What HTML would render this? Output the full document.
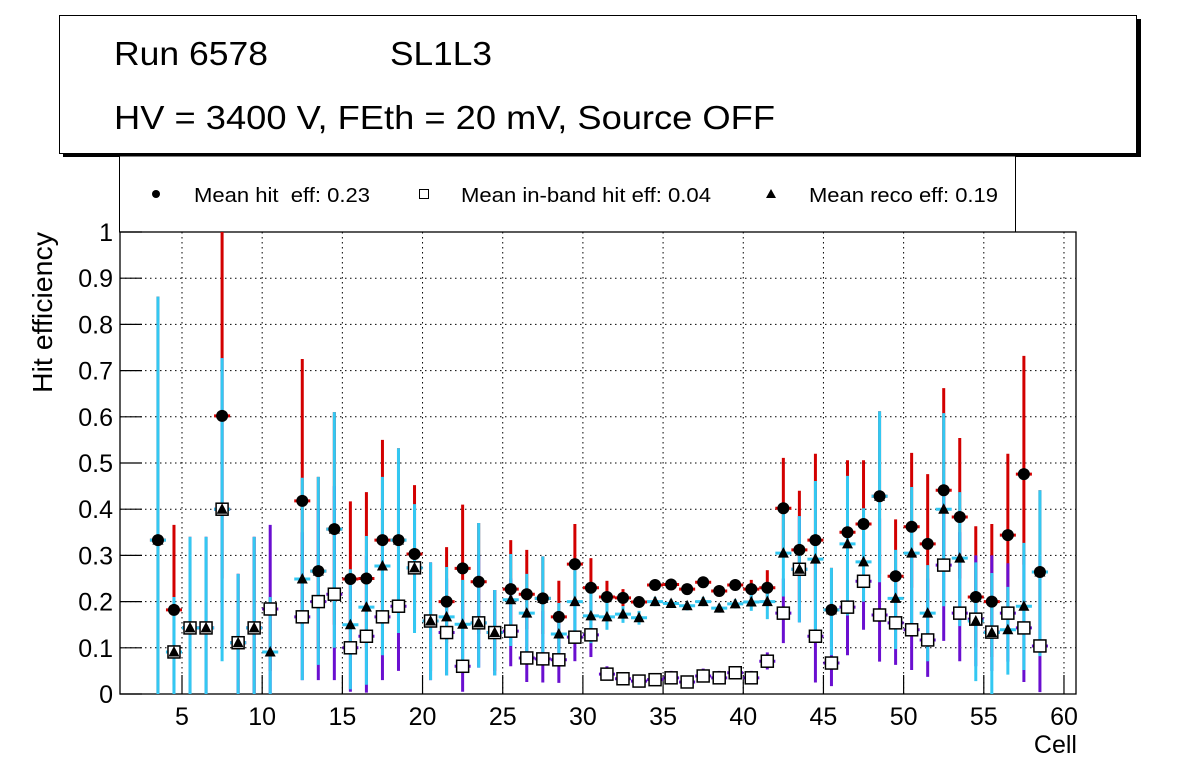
<!DOCTYPE html>
<html><head><meta charset="utf-8"><style>
html,body{margin:0;padding:0;background:#fff;}
svg{display:block;font-family:"Liberation Sans",Arial,sans-serif;}
</style></head><body>
<svg id="c" width="1196" height="772" viewBox="0 0 1196 772" xmlns="http://www.w3.org/2000/svg">
<rect x="63" y="19" width="1078" height="138" fill="#000"/>
<rect x="59.5" y="15.5" width="1077" height="138" fill="#fff" stroke="#000" stroke-width="1"/>
<text x="114" y="65" font-size="33" textLength="154" lengthAdjust="spacingAndGlyphs">Run 6578</text>
<text x="390" y="65" font-size="33" textLength="102" lengthAdjust="spacingAndGlyphs">SL1L3</text>
<text x="114" y="129" font-size="33" textLength="661" lengthAdjust="spacingAndGlyphs">HV = 3400 V, FEth = 20 mV, Source OFF</text>
<rect x="119.5" y="156" width="896" height="76" fill="#fff" stroke="#000" stroke-width="1"/>
<g>
<circle cx="156" cy="194" r="4" fill="#000"/>
<text x="194" y="202" font-size="20" xml:space="preserve" textLength="176" lengthAdjust="spacingAndGlyphs">Mean hit  eff: 0.23</text></g>
<g>
<rect x="419.5" y="189.5" width="9" height="9" fill="#fff" stroke="#000"/>
<text x="461" y="202" font-size="20" textLength="250" lengthAdjust="spacingAndGlyphs">Mean in-band hit eff: 0.04</text></g>
<g>
<polygon points="771,189 776,198 766,198" fill="#000"/>
<text x="809" y="202" font-size="20" textLength="189" lengthAdjust="spacingAndGlyphs">Mean reco eff: 0.19</text></g>
<g id="grid"></g>
<g id="axes"></g>
<g id="marks"></g>
<text transform="translate(52,232) rotate(-90)" text-anchor="end" font-size="28" textLength="161" lengthAdjust="spacingAndGlyphs">Hit efficiency</text>
<text x="1077" y="753" text-anchor="end" font-size="25">Cell</text>
</svg>
<script>
const cells=[3,4,5,6,7,8,9,10,11,12,13,14,15,16,17,18,19,20,21,22,23,24,25,26,27,28,29,30,31,32,33,34,35,36,37,38,39,40,41,42,43,44,45,46,47,48,49,50,51,52,53,54,55,56,57,58];
const hit=[.333,.182,.143,.143,.602,.111,.143,.184,null,.418,.266,.357,.249,.25,.333,.333,.303,.158,.2,.272,.243,.133,.227,.216,.207,.167,.281,.23,.21,.208,.199,.236,.237,.227,.242,.223,.236,.227,.23,.402,.312,.333,.182,.35,.368,.428,.255,.362,.325,.441,.383,.21,.2,.344,.476,.264];
const hitLo=[0,.02,0,0,.25,0,0,.05,null,.15,.1,.15,.1,.1,.16,.17,.18,.05,.11,.15,.13,.05,.14,.14,.13,.1,.2,.17,.18,.19,.19,.227,.228,.218,.233,.214,.227,.207,.19,.3,.2,.2,.1,.22,.25,.26,.15,.23,.2,.3,.25,.1,.08,.2,.28,.12];
const hitHi=[.86,.366,.34,.34,1.0,.26,.34,.21,null,.725,.47,.61,.417,.437,.55,.532,.452,.285,.318,.41,.37,.225,.333,.312,.298,.245,.368,.294,.245,.227,.21,.245,.245,.235,.25,.232,.245,.247,.268,.511,.44,.52,.273,.506,.506,.612,.378,.522,.476,.662,.554,.363,.368,.52,.732,.441];
const inb=[null,.091,.143,.143,.4,.111,.143,.184,null,.167,.2,.216,.1,.125,.167,.19,.273,.158,.133,.06,.154,.133,.136,.078,.076,.074,.123,.128,.043,.033,.028,.031,.035,.026,.039,.035,.046,.035,.071,.175,.27,.125,.067,.188,.244,.171,.154,.139,.117,.279,.175,.162,.134,.175,.143,.104];
const inbLo=[null,0,0,0,.1,0,0,0,null,.03,.03,.03,.005,.003,.03,.05,.14,.03,.04,.005,.057,.04,.06,.026,.025,.024,.071,.08,.03,.022,.018,.02,.024,.016,.028,.024,.035,.024,.053,.11,.155,.025,.017,.084,.139,.07,.063,.052,.037,.115,.071,.06,.05,.07,.026,.004];
const inbHi=[null,.21,.34,.34,.727,.26,.34,.366,null,.35,.4,.45,.25,.3,.35,.4,.41,.285,.25,.2,.3,.225,.25,.18,.18,.17,.2,.2,.06,.045,.04,.045,.05,.04,.055,.05,.06,.05,.09,.25,.385,.3,.2,.35,.35,.38,.27,.3,.25,.45,.35,.3,.3,.283,.3,.3];
const reco=[.333,.091,.143,.143,.4,.111,.143,.091,null,.249,.266,.357,.15,.188,.277,.333,.273,.158,.167,.151,.154,.133,.204,.175,.207,.13,.2,.169,.167,.173,.165,.2,.196,.191,.2,.186,.195,.199,.2,.305,.27,.292,.182,.325,.286,.428,.207,.305,.175,.4,.294,.158,.133,.139,.19,.264];
const recoLo=[0,0,0,0,.071,0,0,0,null,.03,.063,.1,.01,.02,.084,.132,.132,.03,.04,.058,.057,.04,.104,.088,.09,.074,.123,.11,.139,.154,.15,.19,.186,.181,.19,.176,.185,.18,.162,.211,.155,.12,.084,.17,.2,.242,.097,.15,.071,.19,.147,.028,0,.042,.052,.082];
const recoHi=[.86,.21,.34,.34,.727,.26,.34,.21,null,.468,.47,.61,.27,.342,.47,.532,.411,.285,.275,.247,.37,.225,.303,.26,.298,.197,.268,.23,.2,.19,.18,.21,.205,.2,.21,.195,.205,.215,.235,.402,.385,.461,.273,.472,.402,.612,.312,.448,.279,.608,.437,.285,.262,.232,.327,.441];
const xTicks=[5,10,15,20,25,30,35,40,45,50,55,60];
const yTicks=[0,0.1,0.2,0.3,0.4,0.5,0.6,0.7,0.8,0.9,1];
const yTickLabels=["0","0.1","0.2","0.3","0.4","0.5","0.6","0.7","0.8","0.9","1"];

const L=120,R=1076,T=232,B=694;
const X=v=>182+(v-5)*16.036;
const Y=v=>B-v*(B-T);
const NS="http://www.w3.org/2000/svg";
function mk(tag,parent,attrs){const e=document.createElementNS(NS,tag);for(const k in attrs)e.setAttribute(k,attrs[k]);parent.appendChild(e);return e;}
const grid=document.getElementById('grid'),axes=document.getElementById('axes'),marks=document.getElementById('marks');
xTicks.forEach(t=>{
  const g=mk('line',grid,{x1:X(t),x2:X(t),y1:T,y2:B,stroke:'#000','stroke-width':1,'stroke-dasharray':'1.5,3.5'});
  
  
  const tk=mk('line',axes,{x1:X(t),x2:X(t),y1:B,y2:B-19,stroke:'#000','stroke-width':1.2});
  
  
  const tx=mk('text',axes,{x:X(t),y:725,'text-anchor':'middle','font-size':25});
  tx.textContent=String(t);
  
  
});
yTicks.forEach((t,i)=>{
  if(t>0&&t<1){const g=mk('line',grid,{x1:L,x2:R,y1:Y(t),y2:Y(t),stroke:'#000','stroke-width':1,'stroke-dasharray':'1.5,3.5'});
  
  }
  const tk=mk('line',axes,{x1:L,x2:L+22,y1:Y(t),y2:Y(t),stroke:'#000','stroke-width':1.2});
  
  
  const tx=mk('text',axes,{x:113,y:Y(t)+9,'text-anchor':'end','font-size':25});
  tx.textContent=yTickLabels[i];
  
  
});
const fr=mk('rect',axes,{x:L,y:T,width:R-L,height:B-T,fill:'none',stroke:'#000','stroke-width':1.3});



function series(vals,lo,hi,col,name){
  cells.forEach((c,i)=>{
    if(vals[i]==null)return;
    const cx=X(c+0.5);
    const v=mk('line',marks,{x1:cx,x2:cx,y1:Y(lo[i]),y2:Y(Math.min(hi[i],1)),stroke:col,'stroke-width':3});
    
    
    const h=mk('line',marks,{x1:X(c),x2:X(c+1),y1:Y(vals[i]),y2:Y(vals[i]),stroke:col,'stroke-width':3});
    
    
  });
}
series(hit,hitLo,hitHi,'#d20000','hit');
series(inb,inbLo,inbHi,'#6a0fd0','inband');
series(reco,recoLo,recoHi,'#33c8f2','reco');
cells.forEach((c,i)=>{
  const cx=X(c+0.5);
  if(hit[i]!=null){const m=mk('circle',marks,{cx:cx,cy:Y(hit[i]),r:6,fill:'#000'});
    
    }
  if(inb[i]!=null){const m=mk('rect',marks,{x:cx-6,y:Y(inb[i])-6,width:12,height:12,fill:'#fff',stroke:'#000','stroke-width':1.5});
    
    }
  if(reco[i]!=null){const y=Y(reco[i]);const m=mk('polygon',marks,{points:`${cx},${y-6} ${cx+5.5},${y+4.5} ${cx-5.5},${y+4.5}`,fill:'#000'});
    
    }
});
</script>
</body></html>
